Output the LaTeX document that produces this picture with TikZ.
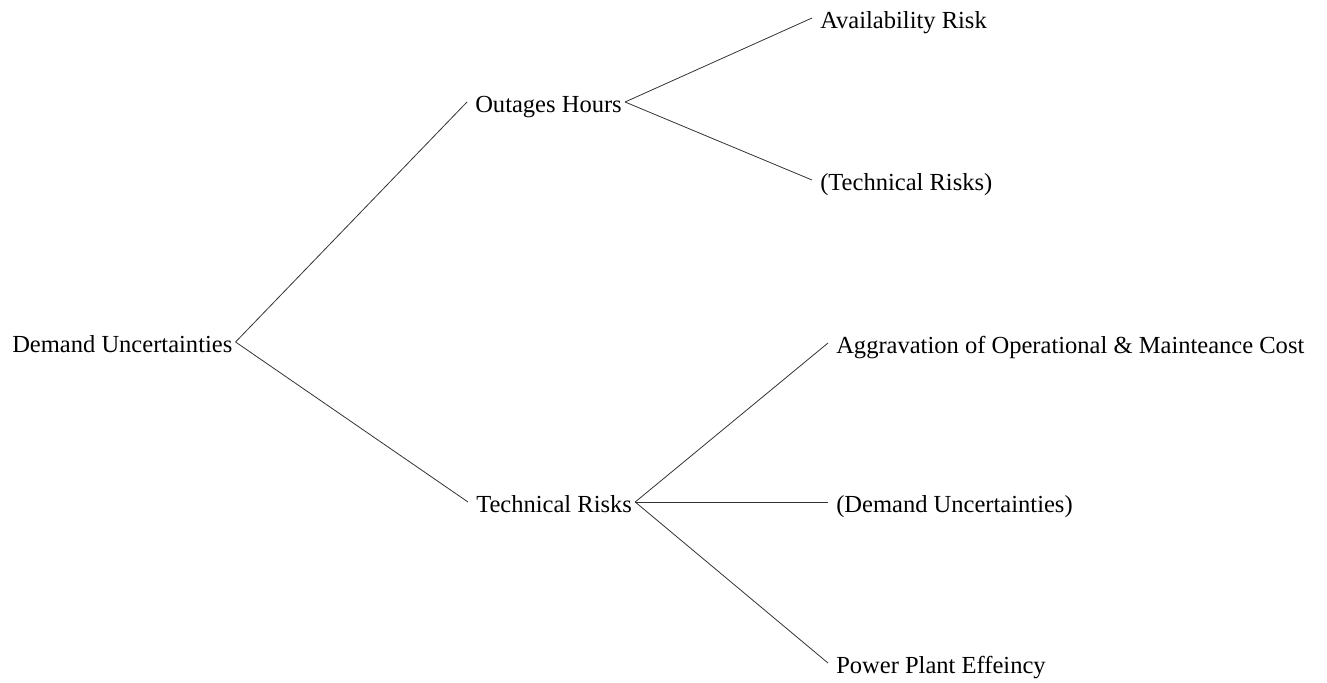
\documentclass[tikz,border=0pt]{standalone}
\usepackage{fontspec}
\setmainfont{Liberation Serif}
\begin{document}
\begin{tikzpicture}[x=0.75pt, y=-0.75pt,
    lbl/.style={inner sep=0pt, text height=15pt, text depth=0pt, anchor=west,
      font=\fontsize{18.4}{22}\selectfont},
    twig/.style={line width=0.6pt, black!80}]
        \useasboundingbox (0,0) rectangle (1327,682);
        \node[lbl] (dem) at (12,342) {Demand Uncertainties};
        \node[lbl] (out) at (475,102) {Outages Hours};
        \node[lbl] (tec) at (476,502) {Technical Risks};
        \node[lbl] (avl) at (820,18) {Availability Risk};
        \node[lbl] (tecb) at (820,180) {(Technical Risks)};
        \node[lbl] (agg) at (836,343) {Aggravation of Operational \& Mainteance Cost};
        \node[lbl] (demb) at (836,502) {(Demand Uncertainties)};
        \node[lbl] (eff) at (836,663) {Power Plant Effeincy};
        \draw[twig] ([xshift=2.25pt]dem.east) -- ([xshift=-6pt]out.west);
        \draw[twig] ([xshift=2.25pt]dem.east) -- ([xshift=-6pt]tec.west);
        \draw[twig] ([xshift=2.25pt]out.east) -- ([xshift=-6pt]avl.west);
        \draw[twig] ([xshift=2.25pt]out.east) -- ([xshift=-6pt]tecb.west);
        \draw[twig] ([xshift=2.25pt]tec.east) -- ([xshift=-6pt]agg.west);
        \draw[twig] ([xshift=2.25pt]tec.east) -- ([xshift=-6pt]demb.west);
        \draw[twig] ([xshift=2.25pt]tec.east) -- ([xshift=-6pt]eff.west);
      \end{tikzpicture}
\end{document}
